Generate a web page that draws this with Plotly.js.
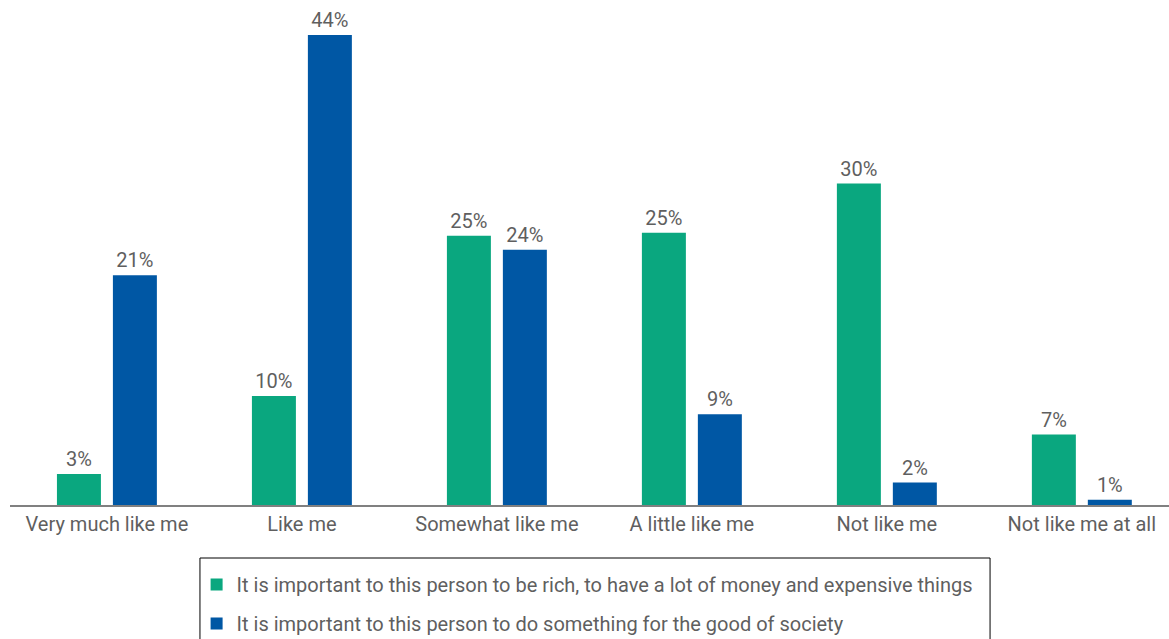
<!DOCTYPE html>
<html>
<head>
<meta charset="utf-8">
<script src="https://cdn.plot.ly/plotly-3.0.1.min.js"></script>
<style>html,body{margin:0;padding:0;background:#fff;}#chart{width:1169px;height:639px;}</style>
</head>
<body>
<div id="chart"></div>
<script>
const categories = ["Very much like me", "Like me", "Somewhat like me", "A little like me", "Not like me", "Not like me at all"];
const richValues = [2.9, 10.2, 25.2, 25.5, 30.1, 6.6];
const richLabels = ["3%", "10%", "25%", "25%", "30%", "7%"];
const societyValues = [21.5, 44, 23.9, 8.5, 2.1, 0.5];
const societyLabels = ["21%", "44%", "24%", "9%", "2%", "1%"];
const seriesNames = [
  "It is important to this person to be rich, to have a lot of money and expensive things",
  "It is important to this person to do something for the good of society"
];

const FONT = "Roboto, 'Open Sans', sans-serif";
const GRAY = "#5f5f5f";
const FS = 20;

const traces = [
  {
    type: "bar", x: categories, y: richValues, name: seriesNames[0],
    text: richLabels, textposition: "outside", cliponaxis: false,
    textfont: {family: FONT, size: FS, color: GRAY},
    marker: {color: "#0aa77f"}, legendgroup: "a", hoverinfo: "x+text"
  },
  {
    type: "bar", x: categories, y: societyValues, name: seriesNames[1],
    text: societyLabels, textposition: "outside", cliponaxis: false,
    textfont: {family: FONT, size: FS, color: GRAY},
    marker: {color: "#0057a4"}, legendgroup: "b", hoverinfo: "x+text"
  }
];

const layout = {
  width: 1169, height: 639,
  margin: {l: 10, r: 0, t: 3, b: 134, pad: 0, autoexpand: false},
  paper_bgcolor: "#fff", plot_bgcolor: "#fff",
  font: {family: FONT, size: FS, color: GRAY},
  barmode: "group", bargap: 0.426, bargroupgap: 0.214,
  xaxis: {
    range: [-0.497, 5.447], showline: true, linecolor: "#808080", linewidth: 2,
    ticks: "", showgrid: false, zeroline: false, fixedrange: true, automargin: false,
    tickfont: {family: FONT, size: FS, color: GRAY}
  },
  yaxis: {range: [0, 47], visible: false, fixedrange: true, automargin: false},
  showlegend: true,
  legend: {
    x: 0.161, xanchor: "left", y: -0.1195, yanchor: "top",
    orientation: "v", traceorder: "grouped", tracegroupgap: 10,
    borderwidth: 0, bgcolor: "rgba(0,0,0,0)",
    font: {family: FONT, size: FS, color: GRAY}
  },
  shapes: [{
    type: "rect", xref: "paper", yref: "paper",
    x0: 0.1639, x1: 0.8456, y0: -0.1056, y1: -0.30,
    line: {color: "#000", width: 1}, fillcolor: "rgba(0,0,0,0)"
  }]
};

Plotly.newPlot("chart", traces, layout, {displayModeBar: false, staticPlot: true});
</script>
</body>
</html>
